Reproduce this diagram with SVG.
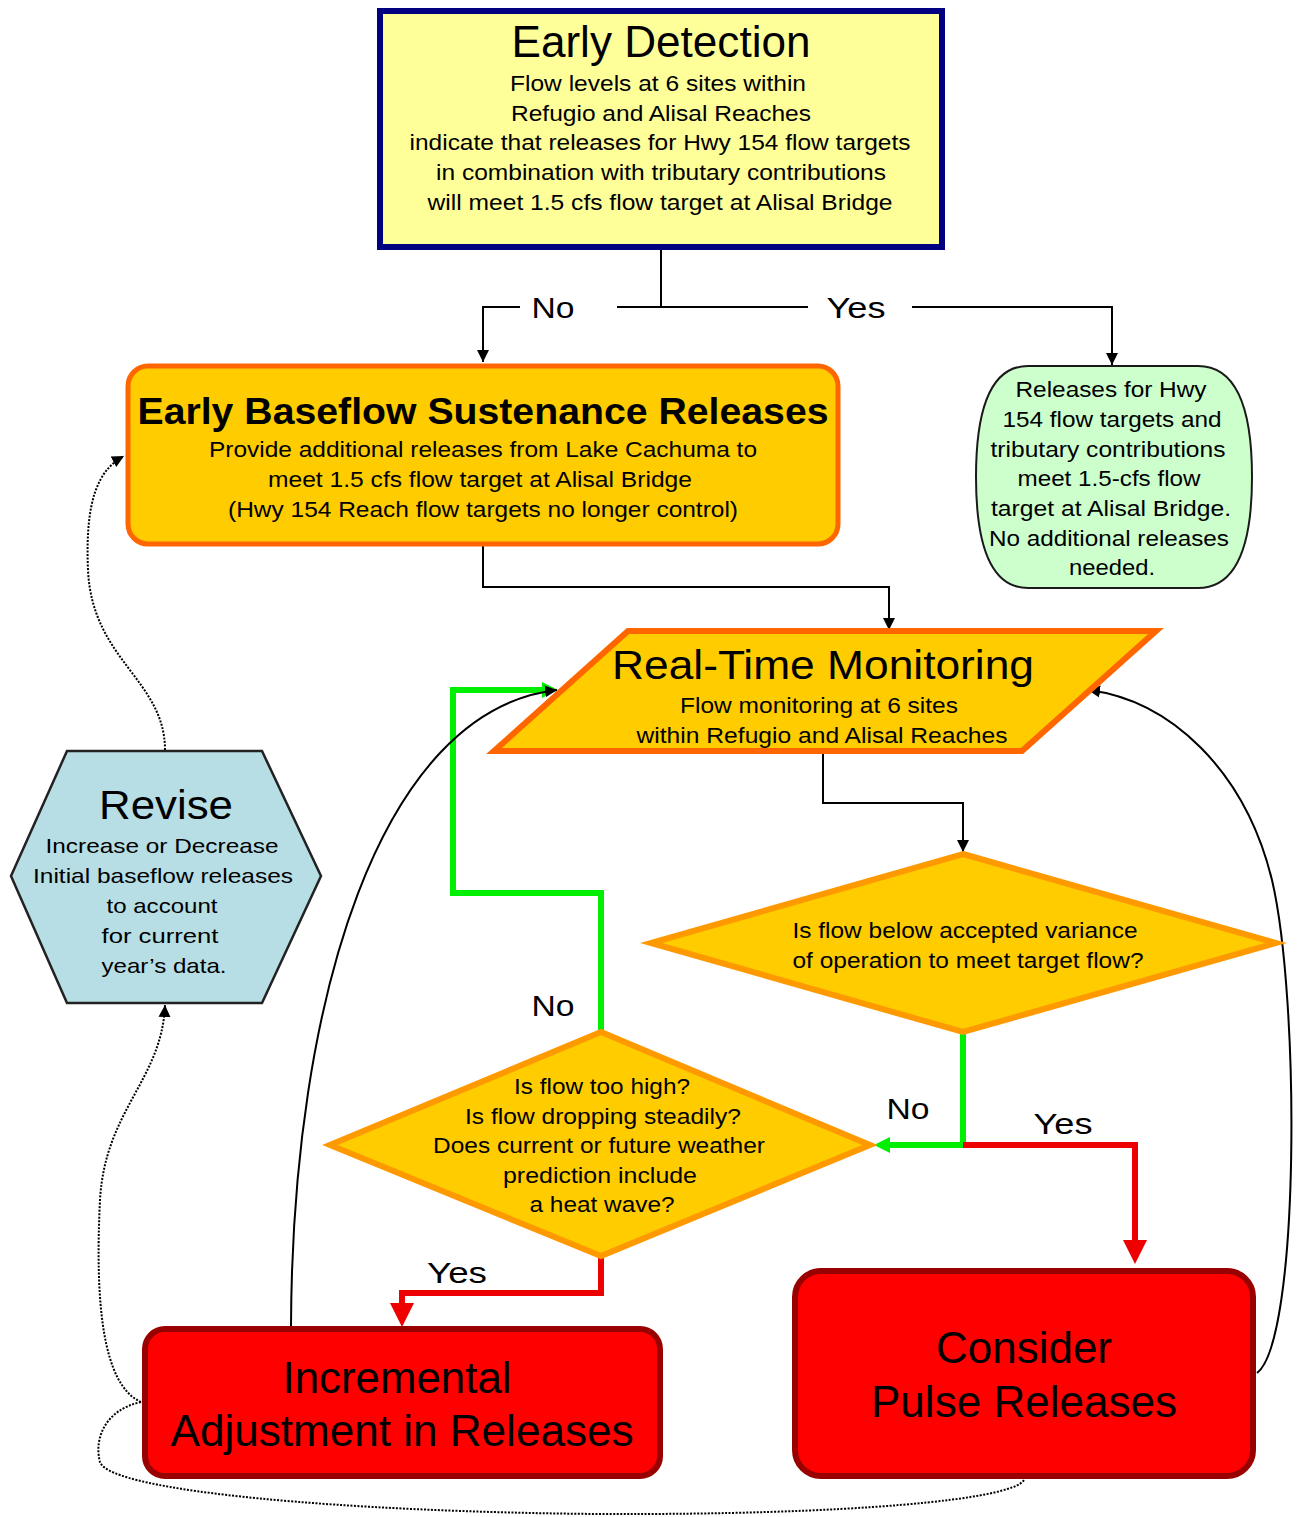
<svg xmlns="http://www.w3.org/2000/svg" width="1304" height="1517" viewBox="0 0 1304 1517">
<style>
text{font-family:"Liberation Sans",Arial,sans-serif;fill:#000;text-anchor:middle}
.t44{font-size:44px}
.t40{font-size:40px}
.t22{font-size:22px}
.t21{font-size:21px}
.lbl{font-size:30px}
.blk{fill:none;stroke:#000;stroke-width:2}
.dot{fill:none;stroke:#000;stroke-width:2;stroke-dasharray:2 1.5}
.grn{fill:none;stroke:#00EE00;stroke-width:6}
.red{fill:none;stroke:#EE0000;stroke-width:6}
.gold{fill:#FFCC00}
</style>
<defs>
<marker id="ab" viewBox="0 0 10 10" refX="10" refY="5" markerWidth="12" markerHeight="14" markerUnits="userSpaceOnUse" orient="auto"><path d="M0,0 L10,5 L0,10 z" fill="#000"/></marker>
<marker id="ar" viewBox="0 0 10 10" refX="0" refY="5" markerWidth="24" markerHeight="24" markerUnits="userSpaceOnUse" orient="auto"><path d="M0,0 L10,5 L0,10 z" fill="#EE0000"/></marker>
<marker id="ag" viewBox="0 0 10 10" refX="0" refY="5" markerWidth="16" markerHeight="18" markerUnits="userSpaceOnUse" orient="auto"><path d="M0,0 L10,5 L0,10 z" fill="#00EE00"/></marker>
</defs>
<rect width="1304" height="1517" fill="#fff"/>

<g id="connectors">
<path class="blk" d="M661,250 V307"/>
<path class="blk" d="M520,307 H483 V362" marker-end="url(#ab)"/>
<path class="blk" d="M617,307 H808"/>
<path class="blk" d="M912,307 H1112 V365" marker-end="url(#ab)"/>
<path class="blk" d="M483,545 V587 H889 V630" marker-end="url(#ab)"/>
<path class="blk" d="M823,752 V803 H963 V852" marker-end="url(#ab)"/>
<path class="grn" d="M963,1033 V1145 H890" marker-end="url(#ag)"/>
<path class="red" d="M963,1145 H1135 V1240" marker-end="url(#ar)"/>
<path class="grn" d="M601,1030 V893 H453 V690 H542" marker-end="url(#ag)"/>
<path class="red" d="M601,1258 V1293 H402 V1303" marker-end="url(#ar)"/>
<path class="blk" d="M291,1327 C292,1000 380,710 557,690" marker-end="url(#ab)"/>
<path class="blk" d="M1257,1373 C1300,1340 1300,1000 1272,880 C1245,770 1170,700 1088,690" marker-end="url(#ab)"/>
<path class="dot" d="M165,750 C165,680 92,660 88,570 C85,500 98,470 124,456" marker-end="url(#ab)"/>
<path class="dot" d="M141,1402 C102,1385 95,1300 100,1200 C105,1110 162,1080 165,1005" marker-end="url(#ab)"/>
<path class="dot" d="M141,1402 C104,1410 94,1440 100,1462 C110,1492 350,1512 600,1514 C850,1515 1012,1500 1024,1480"/>
</g>

<g id="early-detection">
<rect x="380" y="11" width="562" height="236" fill="#FFFF99" stroke="#000080" stroke-width="6"/>
<text class="t44" x="661" y="57" textLength="299" lengthAdjust="spacingAndGlyphs">Early Detection</text>
<text class="t22" x="658" y="91" textLength="296" lengthAdjust="spacingAndGlyphs">Flow levels at 6 sites within</text>
<text class="t22" x="661" y="121" textLength="300" lengthAdjust="spacingAndGlyphs">Refugio and Alisal Reaches</text>
<text class="t22" x="660" y="150" textLength="501" lengthAdjust="spacingAndGlyphs">indicate that releases for Hwy 154 flow targets</text>
<text class="t22" x="661" y="180" textLength="450" lengthAdjust="spacingAndGlyphs">in combination with tributary contributions</text>
<text class="t22" x="660" y="210" textLength="465" lengthAdjust="spacingAndGlyphs">will meet 1.5 cfs flow target at Alisal Bridge</text>
</g>

<g id="labels">
<text class="lbl" x="553" y="318" textLength="43" lengthAdjust="spacingAndGlyphs">No</text>
<text class="lbl" x="856" y="318" textLength="59" lengthAdjust="spacingAndGlyphs">Yes</text>
<text class="lbl" x="553" y="1016" textLength="43" lengthAdjust="spacingAndGlyphs">No</text>
<text class="lbl" x="908" y="1119" textLength="43" lengthAdjust="spacingAndGlyphs">No</text>
<text class="lbl" x="1063" y="1134" textLength="59" lengthAdjust="spacingAndGlyphs">Yes</text>
<text class="lbl" x="457" y="1283" textLength="60" lengthAdjust="spacingAndGlyphs">Yes</text>
</g>

<g id="early-baseflow">
<rect x="128" y="366" width="710" height="178" rx="20" class="gold" stroke="#FF6600" stroke-width="5"/>
<text x="483" y="424" style="font-size:36px;font-weight:bold" textLength="691" lengthAdjust="spacingAndGlyphs">Early Baseflow Sustenance Releases</text>
<text class="t22" x="483" y="457" textLength="548" lengthAdjust="spacingAndGlyphs">Provide additional releases from Lake Cachuma to</text>
<text class="t22" x="480" y="487" textLength="424" lengthAdjust="spacingAndGlyphs">meet 1.5 cfs flow target at Alisal Bridge</text>
<text class="t22" x="483" y="517" textLength="510" lengthAdjust="spacingAndGlyphs">(Hwy 154 Reach flow targets no longer control)</text>
</g>

<g id="no-additional">
<path d="M1028,366 L1198,366 Q1252,366 1252,477 Q1252,588 1198,588 L1028,588 Q976,588 976,477 Q976,366 1028,366 Z" fill="#CCFFCC" stroke="#1a1a1a" stroke-width="2"/>
<text class="t22" x="1111" y="397" textLength="191" lengthAdjust="spacingAndGlyphs">Releases for Hwy</text>
<text class="t22" x="1112" y="427" textLength="219" lengthAdjust="spacingAndGlyphs">154 flow targets and</text>
<text class="t22" x="1108" y="457" textLength="235" lengthAdjust="spacingAndGlyphs">tributary contributions</text>
<text class="t22" x="1109" y="486" textLength="183" lengthAdjust="spacingAndGlyphs">meet 1.5-cfs flow</text>
<text class="t22" x="1111" y="516" textLength="240" lengthAdjust="spacingAndGlyphs">target at Alisal Bridge.</text>
<text class="t22" x="1109" y="546" textLength="240" lengthAdjust="spacingAndGlyphs">No additional releases</text>
<text class="t22" x="1112" y="575" textLength="86" lengthAdjust="spacingAndGlyphs">needed.</text>
</g>

<g id="real-time-monitoring">
<polygon points="628,631 1156,631 1022,751 494,751" class="gold" stroke="#FF6600" stroke-width="6" stroke-linejoin="miter"/>
<text class="t40" x="823" y="679" textLength="422" lengthAdjust="spacingAndGlyphs">Real-Time Monitoring</text>
<text class="t22" x="819" y="713" textLength="278" lengthAdjust="spacingAndGlyphs">Flow monitoring at 6 sites</text>
<text class="t22" x="822" y="743" textLength="371" lengthAdjust="spacingAndGlyphs">within Refugio and Alisal Reaches</text>
</g>

<g id="revise">
<polygon points="11,876 67,751 262,751 321,876 262,1003 67,1003" fill="#B7DEE4" stroke="#222" stroke-width="2.5"/>
<text class="t40" x="166" y="819" textLength="134" lengthAdjust="spacingAndGlyphs">Revise</text>
<text class="t21" x="162" y="853" textLength="233" lengthAdjust="spacingAndGlyphs">Increase or Decrease</text>
<text class="t21" x="163" y="883" textLength="260" lengthAdjust="spacingAndGlyphs">Initial baseflow releases</text>
<text class="t21" x="162" y="913" textLength="111" lengthAdjust="spacingAndGlyphs">to account</text>
<text class="t21" x="160" y="943" textLength="117" lengthAdjust="spacingAndGlyphs">for current</text>
<text class="t21" x="164" y="973" textLength="125" lengthAdjust="spacingAndGlyphs">year’s data.</text>
</g>

<g id="below-variance">
<polygon points="963,854 1276,943 963,1032 651,943" class="gold" stroke="#FF9900" stroke-width="6"/>
<text class="t22" x="965" y="938" textLength="345" lengthAdjust="spacingAndGlyphs">Is flow below accepted variance</text>
<text class="t22" x="968" y="968" textLength="351" lengthAdjust="spacingAndGlyphs">of operation to meet target flow?</text>
</g>

<g id="flow-too-high">
<polygon points="601,1032 870,1145 601,1256 330,1145" class="gold" stroke="#FF9900" stroke-width="6"/>
<text class="t22" x="602" y="1094" textLength="176" lengthAdjust="spacingAndGlyphs">Is flow too high?</text>
<text class="t22" x="603" y="1124" textLength="276" lengthAdjust="spacingAndGlyphs">Is flow dropping steadily?</text>
<text class="t22" x="599" y="1153" textLength="332" lengthAdjust="spacingAndGlyphs">Does current or future weather</text>
<text class="t22" x="600" y="1183" textLength="194" lengthAdjust="spacingAndGlyphs">prediction include</text>
<text class="t22" x="602" y="1212" textLength="145" lengthAdjust="spacingAndGlyphs">a heat wave?</text>
</g>

<g id="incremental">
<rect x="145" y="1329" width="515" height="147" rx="20" fill="#FF0000" stroke="#990000" stroke-width="6"/>
<text class="t44" x="397" y="1393" textLength="229" lengthAdjust="spacingAndGlyphs">Incremental</text>
<text class="t44" x="402" y="1446" textLength="463" lengthAdjust="spacingAndGlyphs">Adjustment in Releases</text>
</g>

<g id="pulse">
<rect x="795" y="1271" width="458" height="205" rx="26" fill="#FF0000" stroke="#990000" stroke-width="6"/>
<text class="t44" x="1024" y="1363" textLength="176" lengthAdjust="spacingAndGlyphs">Consider</text>
<text class="t44" x="1024" y="1417" textLength="306" lengthAdjust="spacingAndGlyphs">Pulse Releases</text>
</g>
</svg>
